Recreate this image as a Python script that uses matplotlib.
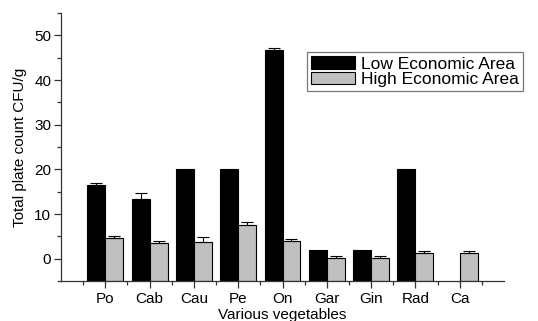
import matplotlib
matplotlib.use("Agg")
import matplotlib.pyplot as plt
import numpy as np
from matplotlib.ticker import FixedLocator, MultipleLocator

categories = ["Po", "Cab", "Cau", "Pe", "On", "Gar", "Gin", "Rad", "Ca"]
low_vals = [16.6, 13.4, 20.0, 20.0, 46.7, 2.0, 2.0, 20.0, np.nan]
low_err = [0.4, 1.2, 0.0, 0.0, 0.4, 0.0, 0.0, 0.0, 0.0]
high_vals = [4.65, 3.5, 3.8, 7.6, 4.0, 0.15, 0.15, 1.3, 1.3]
high_err = [0.5, 0.5, 1.0, 0.5, 0.4, 0.45, 0.45, 0.5, 0.5]

plt.rcParams['font.family'] = ['Liberation Sans', 'DejaVu Sans']

fig = plt.figure(figsize=(5.38, 3.21), dpi=100)
ax = fig.add_axes([0.1134, 0.1246, 0.8234, 0.8349])

ymin, ymax = -5, 55
x = np.arange(1, len(categories) + 1)
w = 0.405

low = np.array(low_vals)
high = np.array(high_vals)

ax.bar(x - w / 2, low - ymin, bottom=ymin, width=w, color='black',
       edgecolor='black', linewidth=0.8, label='Low Economic Area', zorder=2)
ax.bar(x + w / 2, high - ymin, bottom=ymin, width=w, color='#c0c0c0',
       edgecolor='black', linewidth=0.8, label='High Economic Area', zorder=2)

le = np.array(low_err)
mask = le > 0
ax.errorbar((x - w / 2)[mask], low[mask], yerr=[np.zeros(mask.sum()), le[mask]],
            fmt='none', ecolor='black', elinewidth=0.8, capsize=4, capthick=0.8, zorder=3)
ax.errorbar(x + w / 2, high, yerr=[np.zeros(len(high)), np.array(high_err)],
            fmt='none', ecolor='black', elinewidth=0.8, capsize=4, capthick=0.8, zorder=3)

ax.set_xlim(0, 10)
ax.set_ylim(ymin, ymax)
ax.set_xticks(x)
ax.set_xticklabels(categories)
ax.xaxis.set_minor_locator(FixedLocator(np.arange(0.5, 10, 1.0)))
ax.set_yticks([0, 10, 20, 30, 40, 50])
ax.yaxis.set_minor_locator(MultipleLocator(5))

for s in ['top', 'right']:
    ax.spines[s].set_visible(False)
for s in ['left', 'bottom']:
    ax.spines[s].set_linewidth(0.9)
    ax.spines[s].set_color('#333333')

ax.tick_params(axis='both', which='major', direction='out', length=5, width=0.9,
               labelsize=11, colors='#333333', labelcolor='black')
ax.tick_params(axis='both', which='minor', direction='out', length=3, width=0.9,
               colors='#333333')
ax.tick_params(axis='x', which='major', pad=3)
ax.tick_params(axis='y', which='major', pad=2)

ax.set_ylabel('Total plate count CFU/g', fontsize=11, labelpad=5)
ax.set_xlabel('Various vegetables', fontsize=11, labelpad=1)

leg = ax.legend(loc='upper left', bbox_to_anchor=(0.555, 0.854), fontsize=12.5,
                frameon=True, fancybox=False, edgecolor='#555555',
                handlelength=2.5, handleheight=0.7, handletextpad=0.35,
                labelspacing=0.0, borderpad=0.25, borderaxespad=0)
leg.get_frame().set_linewidth(0.9)
for h in leg.legend_handles:
    h.set_linewidth(0.8)

fig.savefig('out.png', dpi=100)
